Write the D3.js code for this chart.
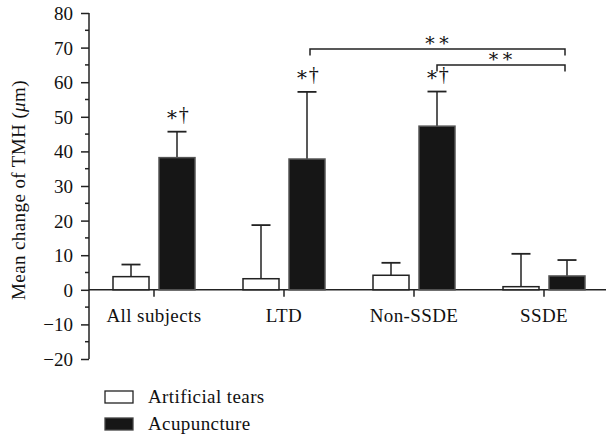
<!DOCTYPE html>
<html><head><meta charset="utf-8">
<script src="https://cdn.jsdelivr.net/npm/d3@7"></script>
<style>body{margin:0;background:#fff}svg{display:block}text{font-family:"Liberation Serif","DejaVu Serif",serif;fill:#111}</style>
</head><body><svg id="c" width="608" height="437"></svg>
<script>
const categories = ["All subjects","LTD","Non-SSDE","SSDE"];
const seriesNames = ["Artificial tears","Acupuncture"];
const tearsMean = [3.8, 3.2, 4.2, 0.9];
const tearsErr  = [3.5, 15.5, 3.6, 9.5];
const acuMean   = [38.2, 37.8, 47.3, 4.0];
const acuErr    = [7.5, 19.4, 10.0, 4.6];
const acuMarks  = ["\u2217†","\u2217†","\u2217†",""];
const yTicks = [-20,-10,0,10,20,30,40,50,60,70,80];
const brackets = [{from:1,to:3,label:"\u2217\u2217",level:0},{from:2,to:3,label:"\u2217\u2217",level:1}];

const FONT = '"Liberation Serif","DejaVu Serif",serif';
const svg = d3.select("#c");
const y = d3.scaleLinear().domain([-20,80]).range([359,13]);
const x = d3.scaleBand().domain(categories).range([89,609]);
const barW = 36, gap = 5;
const ink = "#222";

// y axis
const yAxis = d3.axisLeft(y).tickValues(yTicks).tickSize(8).tickPadding(8)
  .tickFormat(d => d < 0 ? "\u2212" + Math.abs(d) : d);
const ga = svg.append("g").attr("transform","translate(89,0)").call(yAxis)
  .attr("font-family", FONT).attr("font-size", 19);
ga.select(".domain").attr("stroke",ink).attr("stroke-width",1.5).attr("d","M0,13V359");
ga.selectAll(".tick line").attr("stroke",ink).attr("stroke-width",1.5);
ga.selectAll(".tick text").attr("fill","#111").attr("dy","0.34em");
// minor ticks
const minor = d3.range(-15,80,10);
svg.append("g").selectAll("line").data(minor).join("line")
  .attr("x1",85).attr("x2",89).attr("y1",d=>y(d)).attr("y2",d=>y(d))
  .attr("stroke",ink).attr("stroke-width",1.5);

// baseline
svg.append("line").attr("x1",89).attr("x2",606).attr("y1",y(0)).attr("y2",y(0))
  .attr("stroke",ink).attr("stroke-width",1.5);
// category ticks
svg.append("g").selectAll("line").data(categories).join("line")
  .attr("x1",d=>x(d)+x.bandwidth()/2).attr("x2",d=>x(d)+x.bandwidth()/2)
  .attr("y1",y(0)).attr("y2",y(0)+7).attr("stroke",ink).attr("stroke-width",1.5);
svg.append("g").selectAll("text").data(categories).join("text")
  .attr("x",d=>x(d)+x.bandwidth()/2).attr("y",322).attr("text-anchor","middle")
  .style("font-size","19px").style("letter-spacing","0.4px").text(d=>d);

function drawSeries(means, errs, offset, fill, stroke) {
  const g = svg.append("g");
  categories.forEach((c,i) => {
    const cx = x(c) + x.bandwidth()/2;
    const bx = offset < 0 ? cx - gap - barW : cx + gap;
    const mid = bx + barW/2;
    const top = y(means[i]+errs[i]);
    g.append("line").attr("x1",mid).attr("x2",mid).attr("y1",y(means[i])).attr("y2",top)
      .attr("stroke",ink).attr("stroke-width",1.5);
    g.append("line").attr("x1",mid-9.5).attr("x2",mid+9.5).attr("y1",top).attr("y2",top)
      .attr("stroke",ink).attr("stroke-width",1.8);
    g.append("rect").attr("x",bx).attr("y",y(means[i])).attr("width",barW)
      .attr("height",y(0)-y(means[i])).attr("fill",fill).attr("stroke",stroke).attr("stroke-width",1.5);
  });
}
drawSeries(tearsMean, tearsErr, -1, "#fff", ink);
drawSeries(acuMean, acuErr, 1, "#161616", "#555");

// significance marks
categories.forEach((c,i) => {
  if (!acuMarks[i]) return;
  const mid = x(c) + x.bandwidth()/2 + gap + barW/2;
  svg.append("text").attr("x",mid).attr("y",y(acuMean[i]+acuErr[i])-11)
    .attr("text-anchor","middle").style("font-size","20px").attr("fill","#111").text(acuMarks[i]);
});

// brackets
const bY = [49, 65], legLen = 6.5;
brackets.forEach(b => {
  const x1 = x(categories[b.from]) + x.bandwidth()/2 + gap + barW/2 + (b.level===0?3:0);
  const x2 = x(categories[b.to]) + x.bandwidth()/2 + gap + barW/2 - 2;
  const yy = bY[b.level];
  svg.append("path").attr("d",`M${x1},${yy+legLen}V${yy}H${x2}V${yy+legLen}`)
    .attr("fill","none").attr("stroke",ink).attr("stroke-width",1.5);
  svg.append("text").attr("x",(x1+x2)/2).attr("y",yy-3).attr("text-anchor","middle")
    .style("font-size","19px").style("letter-spacing","1px").text(b.label);
});

// y label
svg.append("text").attr("transform","translate(25,190) rotate(-90)").attr("text-anchor","middle")
  .style("font-size","19px").style("letter-spacing","0.4px")
  .html('Mean change of TMH (<tspan font-style="italic">\u03bc</tspan>m)');

// legend
const leg = svg.append("g");
seriesNames.forEach((s,i) => {
  const ly = 391 + i*27;
  leg.append("rect").attr("x",105).attr("y",ly).attr("width",28).attr("height",12)
    .attr("fill", i===0?"#fff":"#161616").attr("stroke", i===0?ink:"#444").attr("stroke-width",1.3);
  leg.append("text").attr("x",148).attr("y",ly+12).style("font-size","19px").style("letter-spacing","0.4px").text(s);
});
</script></body></html>
